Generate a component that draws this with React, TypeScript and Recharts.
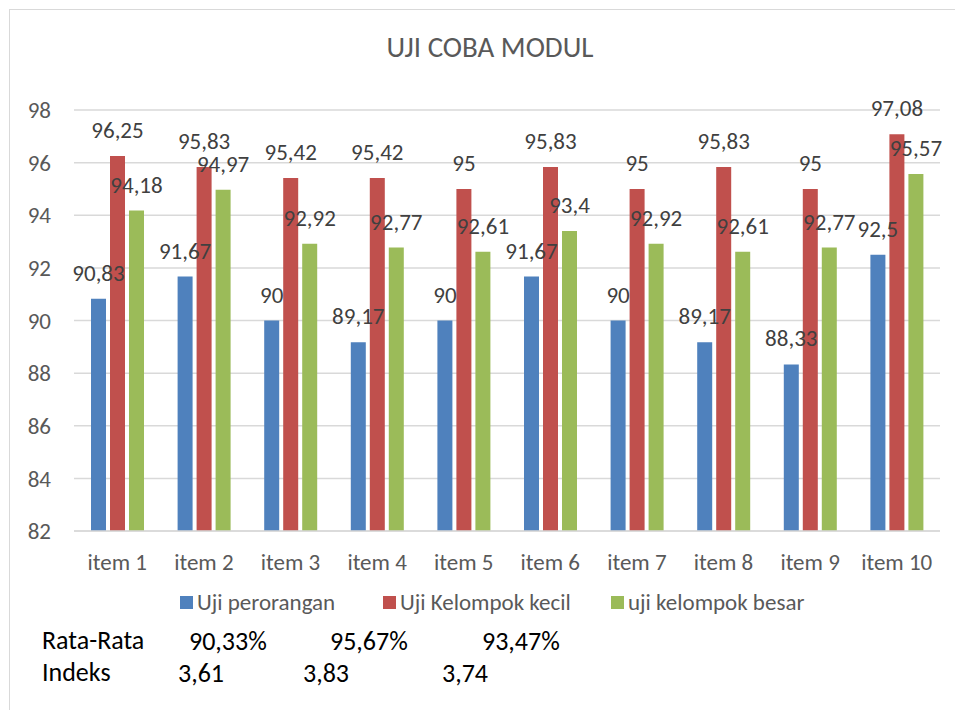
import React from 'react';
import { BarChart, Bar, XAxis, YAxis, CartesianGrid, Legend, LabelList } from 'recharts';

const items = ['item 1', 'item 2', 'item 3', 'item 4', 'item 5', 'item 6', 'item 7', 'item 8', 'item 9', 'item 10'];
const ujiPerorangan = [90.83, 91.67, 90, 89.17, 90, 91.67, 90, 89.17, 88.33, 92.5];
const ujiKelompokKecil = [96.25, 95.83, 95.42, 95.42, 95, 95.83, 95, 95.83, 95, 97.08];
const ujiKelompokBesar = [94.18, 94.97, 92.92, 92.77, 92.61, 93.4, 92.92, 92.61, 92.77, 95.57];
const yTicks = [82, 84, 86, 88, 90, 92, 94, 96, 98];
const seriesNames = ['Uji perorangan', 'Uji Kelompok kecil', 'uji kelompok besar'];

const rataRata = ['90,33%', '95,67%', '93,47%'];
const indeks = ['3,61', '3,83', '3,74'];

const FONT = 'Carlito, Lato, "Open Sans", sans-serif';
const BLUE = '#4F81BD';
const RED = '#C0504D';
const GREEN = '#9BBB59';

const chartData = items.map((name, i) => ({
  name,
  perorangan: ujiPerorangan[i],
  kecil: ujiKelompokKecil[i],
  besar: ujiKelompokBesar[i],
}));

// angka pakai koma desimal
const fmt = (v: any) => String(v).replace('.', ',');

// lebar tiap item legend, supaya jaraknya sama dengan gambar asli
const legendWidths = [203, 228, 220];

const LegendContent = (props: any) => {
  const payload = [...(props.payload || [])].sort(
    (a: any, b: any) => seriesNames.indexOf(a.value) - seriesNames.indexOf(b.value)
  );
  return (
    <div style={{ display: 'flex', height: 26, alignItems: 'center', fontFamily: FONT, fontSize: 23, color: '#595959' }}>
      {payload.map((entry: any, idx: number) => (
        <div key={idx} style={{ display: 'flex', alignItems: 'center', width: legendWidths[idx] }}>
          <div style={{ width: 13, height: 13, backgroundColor: entry.color, marginRight: 4 }} />
          <span>{entry.value}</span>
        </div>
      ))}
    </div>
  );
};

const textAt = (left: number, baseline: number, text: string, size = 26) => (
  <div
    style={{
      position: 'absolute',
      left,
      top: baseline - Math.round(size * 0.887),
      fontFamily: FONT,
      fontSize: size,
      lineHeight: 1,
      color: '#000',
      whiteSpace: 'nowrap',
    }}
  >
    {text}
  </div>
);

export default function App() {
  const labelStyle = { fontFamily: FONT, fontSize: 23, fill: '#404040' };
  const tickStyle = { fontFamily: FONT, fontSize: 23, fill: '#595959' };
  return (
    <div style={{ position: 'absolute', left: 0, top: 0, width: 955, height: 710, background: '#fff', overflow: 'hidden' }}>
      {/* bingkai chart */}
      <div style={{ position: 'absolute', left: 9, top: 9, width: 960, height: 720, border: '1px solid #D9D9D9' }} />

      <div
        style={{
          position: 'absolute',
          left: 0,
          width: 980,
          top: 59 - Math.round(29 * 0.887),
          textAlign: 'center',
          fontFamily: FONT,
          fontSize: 29,
          lineHeight: 1,
          color: '#595959',
        }}
      >
        UJI COBA MODUL
      </div>

      <div style={{ position: 'absolute', left: 0, top: 0 }}>
        <BarChart
          width={955}
          height={710}
          data={chartData}
          margin={{ top: 110, right: 15, left: 10, bottom: 113 }}
          barGap={4}
          barSize={15}
        >
          <CartesianGrid vertical={false} stroke="#D9D9D9" strokeWidth={1.5} />
          <XAxis
            dataKey="name"
            height={40}
            axisLine={{ stroke: '#D9D9D9', strokeWidth: 1.5 }}
            tickLine={false}
            tickSize={0}
            tickMargin={23}
            tick={tickStyle}
            interval={0}
          />
          <YAxis
            width={64}
            domain={[82, 98]}
            ticks={yTicks}
            allowDataOverflow
            axisLine={false}
            tickLine={false}
            tickSize={0}
            tickMargin={23}
            tick={tickStyle}
          />
          <Legend
            verticalAlign="bottom"
            align="left"
            content={<LegendContent />}
            wrapperStyle={{ left: 180, top: 589, width: 700 }}
          />
          <Bar dataKey="perorangan" name={seriesNames[0]} fill={BLUE} isAnimationActive={false}>
            <LabelList dataKey="perorangan" position="top" offset={18} formatter={fmt} style={labelStyle} />
          </Bar>
          <Bar dataKey="kecil" name={seriesNames[1]} fill={RED} isAnimationActive={false}>
            <LabelList dataKey="kecil" position="top" offset={18} formatter={fmt} style={labelStyle} />
          </Bar>
          <Bar dataKey="besar" name={seriesNames[2]} fill={GREEN} isAnimationActive={false}>
            <LabelList dataKey="besar" position="top" offset={18} formatter={fmt} style={labelStyle} />
          </Bar>
        </BarChart>
      </div>

      {textAt(42, 650, 'Rata-Rata')}
      {textAt(189, 651, rataRata[0])}
      {textAt(330, 651, rataRata[1])}
      {textAt(482, 651, rataRata[2])}
      {textAt(42, 682, 'Indeks')}
      {textAt(178, 683, indeks[0])}
      {textAt(303, 683, indeks[1])}
      {textAt(442, 683, indeks[2])}
    </div>
  );
}
